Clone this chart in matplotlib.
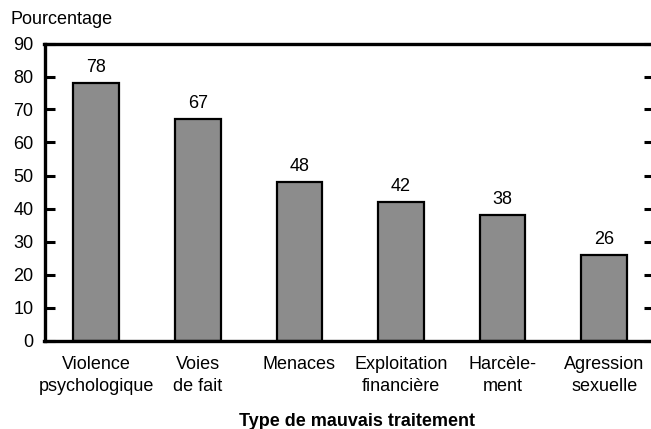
import matplotlib
matplotlib.use("Agg")
import matplotlib.pyplot as plt

categories = ["Violence\npsychologique", "Voies\nde fait", "Menaces",
              "Exploitation\nfinancière", "Harcèle-\nment", "Agression\nsexuelle"]
values = [78, 67, 48, 42, 38, 26]
yticks = [0, 10, 20, 30, 40, 50, 60, 70, 80, 90]

plt.rcParams['font.family'] = ['Liberation Sans', 'DejaVu Sans']
FS = 13

W, H = 651, 429
fig = plt.figure(figsize=(W / 100, H / 100), dpi=100)
left, right, top, bottom = 44.5, 654, 43.5, 340.5
ax = fig.add_axes([left / W, 1 - bottom / H, (right - left) / W, (bottom - top) / H])

x = list(range(len(categories)))
bars = ax.bar(x, values, width=0.45, color="#8c8c8c", edgecolor="black", linewidth=1.6, zorder=2)
for xi, v in zip(x, values):
    ax.annotate(str(v), (xi, v), xytext=(0, 5), textcoords="offset points",
                ha="center", va="bottom", fontsize=FS)

ax.set_xlim(-0.51, 5.49)
ax.set_ylim(0, 90)
ax.set_yticks(yticks)
ax.set_xticks(x)
ax.set_xticklabels(categories, fontsize=FS, linespacing=1.38)
ax.tick_params(axis="x", length=0, pad=11)
ax.tick_params(axis="y", direction="in", length=7.5, width=2.2, labelsize=FS, pad=8,
               right=True, left=True)
for s in ax.spines.values():
    s.set_linewidth(2.4)

fig.text(10 / W, 1 - 19 / H, "Pourcentage", fontsize=FS, ha="left", va="center")
fig.text(357 / W, 1 - 422 / H, "Type de mauvais traitement",
         fontsize=FS, fontweight="bold", ha="center", va="center")

fig.savefig("out.png", dpi=100)
